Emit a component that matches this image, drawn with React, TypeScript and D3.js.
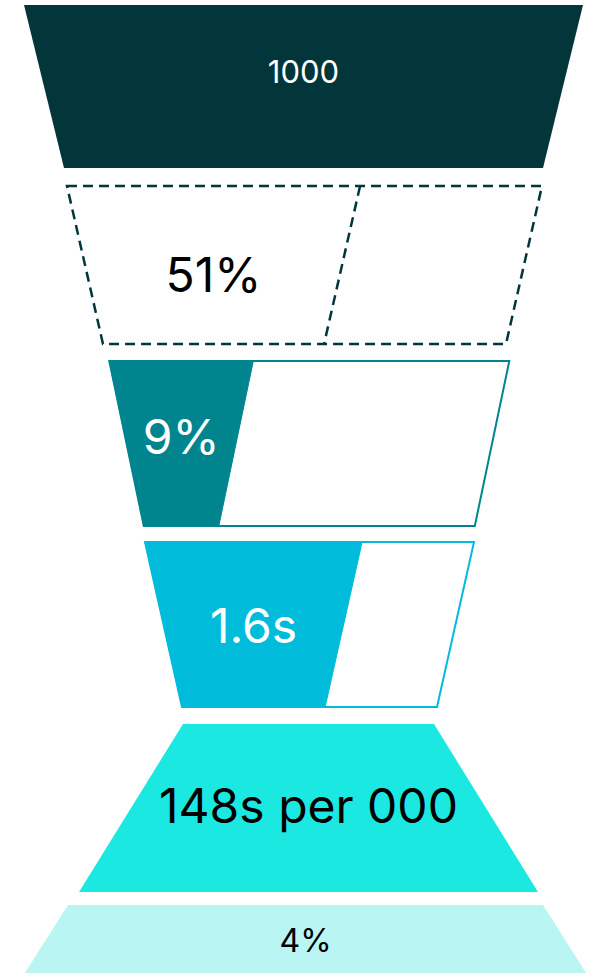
import React from "react";
import * as d3 from "d3";

// ---- data ----
const stages = ["Stage 1", "Stage 2", "Stage 3", "Stage 4", "Stage 5", "Stage 6"];
const labels = ["1000", "51%", "9%", "1.6s", "148s per 000", "4%"];
const fillShares = [1, 0.617, 0.36, 0.66, 1, 1];

// ---- layout / style ----
const W = 593;
const H = 973;
const topWidths = [559, 475, 400, 329, 251, 475];
const bottomWidths = [479, 403, 331, 255, 459, 683];
const centers = [303.5, 304.5, 309.3, 309.5, 308.5, 305.5];
const topNudge = [1, 2, -3, -2, 0, 1];
const bottomNudge = [-1, -5, -3, -2, 3, 0];
const kinds = ["solid", "dashed", "partial", "partial", "solid", "solid"];
const colors = ["#02363a", "#02363a", "#00858f", "#00bcdb", "#1be9e1", "#b9f6f3"];
const textColors = ["#ffffff", "#000000", "#ffffff", "#ffffff", "#000000", "#000000"];
const fontSizes = [31, 48, 48, 48, 48, 32];
const labelShift = [-14.5, 10, -7, 1, -2.5, 1];
const FONT = "Inter, 'Open Sans', sans-serif";

export default function App() {
  const y = d3
    .scaleBand<string>()
    .domain(stages)
    .range([-3.5, -3.5 + 180 * stages.length])
    .paddingInner(15 / 180)
    .paddingOuter(7.5 / 180);
  const bw = y.bandwidth();
  const line = d3.line<[number, number]>();

  return (
    <svg width={W} height={H} style={{ position: "absolute", left: 0, top: 0 }}>
      {stages.map((s, i) => {
        const y0 = y(s)! + topNudge[i];
        const y1 = y(s)! + bw + bottomNudge[i];
        const c = centers[i];
        const tl = c - topWidths[i] / 2;
        const tr = c + topWidths[i] / 2;
        const bl = c - bottomWidths[i] / 2;
        const br = c + bottomWidths[i] / 2;
        const outline: [number, number][] = [
          [tl, y0],
          [tr, y0],
          [br, y1],
          [bl, y1],
        ];
        // divider parallel to right edge
        const dTop = tl + fillShares[i] * (tr - tl);
        const dBot = dTop + (br - tr);
        const part: [number, number][] = [
          [tl, y0],
          [dTop, y0],
          [dBot, y1],
          [bl, y1],
        ];
        const visBottom = Math.min(y1, H);
        const cy = (y0 + visBottom) / 2 + labelShift[i];
        const cx = fillShares[i] >= 1 ? c : (tl + dTop + bl + dBot) / 4;
        const fs = fontSizes[i];
        return (
          <g key={s}>
            {kinds[i] === "solid" && (
              <path d={line(outline)! + "Z"} fill={colors[i]} />
            )}
            {kinds[i] === "dashed" && (
              <g fill="none" stroke={colors[i]} strokeWidth={2.5} strokeDasharray="10,6">
                <path d={line(outline)! + "Z"} fill="#fff" />
                <path d={line([[dTop, y0], [dBot, y1]])!} />
              </g>
            )}
            {kinds[i] === "partial" && (
              <g>
                <path d={line(outline)! + "Z"} fill="#fff" stroke={colors[i]} strokeWidth={2} />
                <path d={line(part)! + "Z"} fill={colors[i]} stroke={colors[i]} strokeWidth={1} />
              </g>
            )}
            <text
              x={cx}
              y={cy + fs * 0.36}
              textAnchor="middle"
              fill={textColors[i]}
              fontFamily={FONT}
              fontSize={fs}
              fontWeight={400}
            >
              {labels[i]}
            </text>
          </g>
        );
      })}
    </svg>
  );
}
